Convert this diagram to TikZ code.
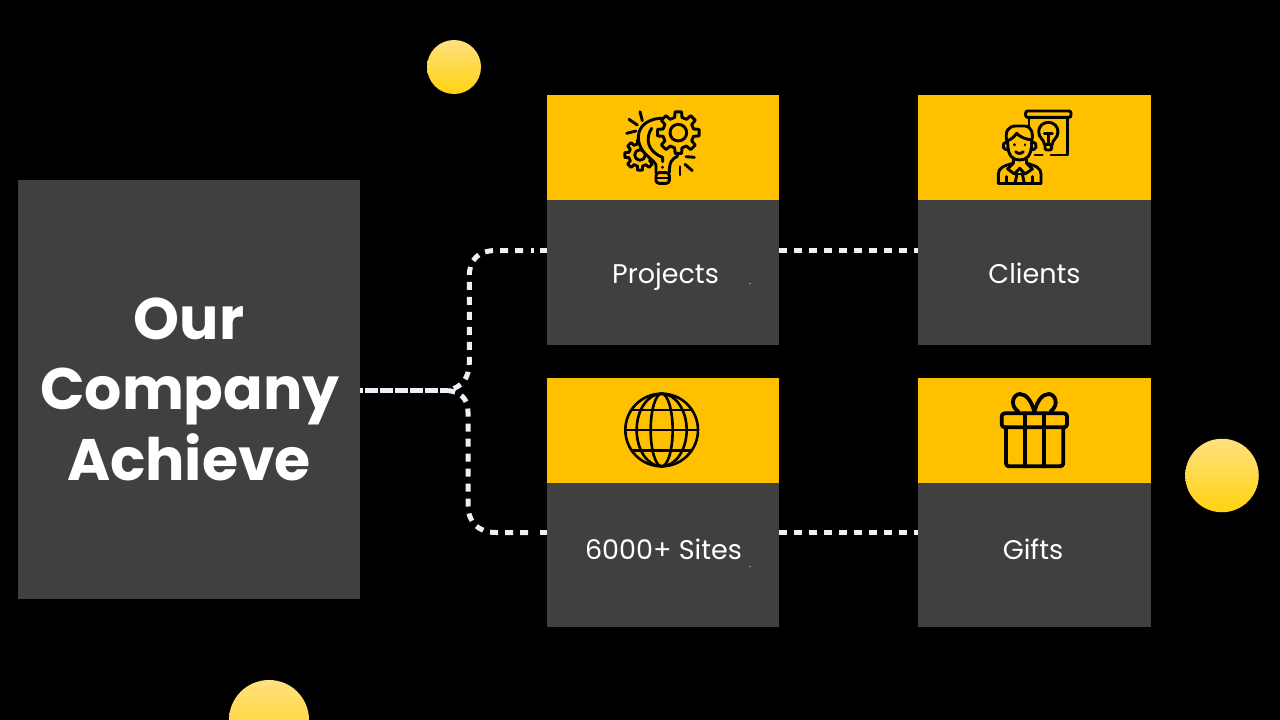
\documentclass[tikz,border=0pt]{standalone}
\usepackage{fontspec}
\setmainfont{Poppins}
\usetikzlibrary{calc}
\definecolor{panel}{HTML}{404040}
\definecolor{amber}{HTML}{FFC000}
\definecolor{linec}{HTML}{EEF0F8}
\definecolor{circtop}{HTML}{FFE07F}
\definecolor{circbot}{HTML}{FFD30F}
\definecolor{speck}{HTML}{8C8C8C}
\tikzset{
  panelbox/.style={fill=panel,draw=none,inner sep=0pt,outer sep=0pt,anchor=north west},
  headbox/.style={fill=amber,draw=none,inner sep=0pt,outer sep=0pt,anchor=north west,minimum width=232pt,minimum height=105pt},
  bodybox/.style={panelbox,minimum width=232pt},
  cardlabel/.style={text=white,font=\fontsize{27}{30}\selectfont,anchor=base,inner sep=0pt},
  titlelabel/.style={text=white,font=\fontsize{58.5}{60}\selectfont\bfseries,anchor=base,inner sep=0pt},
  dashline/.style={draw=linec,line width=5pt,dash pattern=on 13pt off 2pt,dash phase=10pt},
  dotline/.style={draw=linec,line width=5pt,dash pattern=on 8pt off 7pt},
  solidbit/.style={draw=linec,line width=5pt},
  ball/.style={circle,inner sep=0pt,outer sep=0pt,top color=circtop,bottom color=circbot,draw=none},
  ico/.style={draw=black,line width=2.9pt,line cap=round,line join=round},
}
\newcommand{\gearpath}[5]{% cx cy root tip teeth
  \pgfmathsetmacro{\stp}{360/#5}
  \pgfmathsetmacro{\hw}{\stp*0.30}
  \pgfmathsetmacro{\hr}{\stp*0.20}
  \path[ico,fill=amber,shift={(#1,#2)}] (-\hw:#3)
    \foreach \k in {1,...,#5}{
      -- ({\k*\stp-\stp-\hw}:#3) -- ({\k*\stp-\stp-\hr}:#4) -- ({\k*\stp-\stp+\hr}:#4) -- ({\k*\stp-\stp+\hw}:#3)
    } -- cycle;
}
\begin{document}
\begin{tikzpicture}[x=1pt,y=-1pt]
\useasboundingbox (0,0) rectangle (1280,720);
\fill[black] (0,0) rectangle (1280,720);

% circles
\node[ball,minimum size=54pt] (ballA) at (454,67) {};
\node[ball,minimum size=73.5pt] (ballB) at (1222,475.5) {};
\begin{scope}
\clip (0,0) rectangle (1280,720);
\node[ball,minimum size=80pt] (ballC) at (269,720) {};
\end{scope}

% left panel
\node[panelbox,minimum width=342pt,minimum height=419pt] (main) at (18,180) {};
\node[titlelabel] (t1) at (189,339) {Our};
\node[titlelabel] (t2) at (190,409) {Company};
\node[titlelabel] (t3) at (189,480) {Achieve};

% cards
\node[headbox] (h1) at (547,95) {};
\node[bodybox,minimum height=145pt] (b1) at (547,200) {};
\node[headbox,minimum width=233pt] (h2) at (918,95) {};
\node[bodybox,minimum width=233pt,minimum height=145pt] (b2) at (918,200) {};
\node[headbox] (h3) at (547,378) {};
\node[bodybox,minimum height=144pt] (b3) at (547,483) {};
\node[headbox,minimum width=233pt] (h4) at (918,378) {};
\node[bodybox,minimum width=233pt,minimum height=144pt] (b4) at (918,483) {};

\node[cardlabel] (l1) at (665.5,283) {Projects};
\node[cardlabel] (l2) at (1034.5,283) {Clients};
\node[cardlabel] (l3) at (663.5,559) {6000+ Sites};
\node[cardlabel] (l4) at (1033,559) {Gifts};

% tiny specks on the two left cards
\fill[speck] (749,282.6) rectangle (751,283.6);
\fill[speck] (749,565.6) rectangle (751,566.6);

% connectors
\coordinate (p1) at ($(b1.north west)+(0,50.5)$);
\coordinate (p2) at ($(b3.north west)+(0,49.5)$);
\coordinate (q1) at ($(b1.north east)+(0,50.5)$);
\coordinate (q2) at ($(b2.north west)+(0,50.5)$);
\coordinate (q3) at ($(b3.north east)+(0,49.5)$);
\coordinate (q4) at ($(b4.north west)+(0,49.5)$);
\coordinate (m0) at ($(main.east)+(0,1)$);
\coordinate (fork) at ($(main.east)+(88,1)$);
\draw[dashline] (m0) -- (fork);
% top branch, drawn from the card back to the fork
\draw[dotline] ($(p1)+(-24,0)$) -- (496,250.5) .. controls (478,250.5) and (469.3,260) .. (469.3,276) -- (469.3,362) .. controls (469.3,378) and (462,387) .. (fork);
\draw[solidbit] ($(p1)+(-16,0)$) -- ($(p1)+(-13,0)$);
\draw[solidbit] ($(p1)+(-7,0)$) -- (p1);
% bottom branch
\draw[dotline] ($(p2)+(-19,0)$) -- (496,532.5) .. controls (478,532.5) and (468,522) .. (468,505) -- (468,412) .. controls (468,398) and (460,392) .. (fork);
\draw[solidbit] ($(p2)+(-7,0)$) -- (p2);
\draw[dotline] (q1) -- (q2);
\draw[dotline] (q3) -- (q4);

% bulb and gears icon
\begin{scope}[shift={(610,100)},x=0.3333pt,y=-0.3333pt]
\gearpath{90}{165}{34}{46}{8}
\draw[ico,shift={(90,165)}] (0,0) circle[radius=16];
\fill[amber] (138,195) .. controls (130,175) and (85,160) .. (85,112) .. controls (85,75) and (120,52) .. (165,55) -- (205,130) -- (203,168) .. controls (185,178) and (178,185) .. (178,195) -- cycle;
\draw[ico] (138,218) -- (138,195) .. controls (130,175) and (85,160) .. (85,112) .. controls (85,75) and (120,52) .. (165,55);
\draw[ico] (203,168) .. controls (185,178) and (178,185) .. (178,218);
\draw[ico] (125,85) .. controls (105,115) and (112,155) .. (158,172) -- (158,185);
\draw[ico] (158,201) -- (158,202);
\draw[ico,rounded corners=3pt] (138,218) -- (138,250) -- (178,250) -- (178,218) -- cycle;
\draw[ico] (138,234) -- (178,234);
\draw[ico] (57,58) -- (82,75);
\draw[ico] (90,35) -- (97,62);
\draw[ico] (50,100) -- (78,93);
\draw[ico] (228,170) -- (253,172);
\draw[ico] (225,193) -- (247,212);
\draw[ico] (210,200) -- (210,225);
\gearpath{205}{98}{47}{63}{8}
\draw[ico,shift={(205,98)}] (0,0) circle[radius=25];
\end{scope}

% person and board icon
\begin{scope}[shift={(985,100)},x=0.3333pt,y=-0.3333pt]
\draw[ico,rounded corners=2pt] (122,33) rectangle (258,52);
\draw[ico] (132,52) -- (132,78);
\draw[ico] (248,52) -- (248,165) -- (198,165);
\draw[ico] (150,165) -- (172,165);
\draw[ico] (178,133) .. controls (178,118) and (161,115) .. (161,95) .. controls (161,78) and (175,67) .. (190,67) .. controls (205,67) and (219,78) .. (219,95) .. controls (219,115) and (202,118) .. (202,133) -- cycle;
\draw[ico] (178,100) -- (202,100);
\draw[ico] (190,100) -- (190,133);
\draw[ico,rounded corners=2pt] (180,133) -- (180,150) -- (200,150) -- (200,133);
% head
\draw[ico] (68,128) .. controls (68,170) and (85,180) .. (104,180) .. controls (123,180) and (140,170) .. (140,128);
\draw[ico] (68,128) .. controls (56,125) and (52,135) .. (55,142) .. controls (57,148) and (63,150) .. (70,148);
\draw[ico] (140,128) .. controls (152,125) and (156,135) .. (153,142) .. controls (151,148) and (145,150) .. (138,148);
\draw[ico] (66,125) .. controls (58,95) and (70,78) .. (92,78) -- (120,78) .. controls (142,80) and (146,105) .. (140,125);
\draw[ico] (68,122) .. controls (80,118) and (90,108) .. (95,100) .. controls (105,112) and (125,118) .. (140,120);
\draw[ico] (88,134) -- (88,135);
\draw[ico] (120,134) -- (120,135);
\draw[ico] (92,155) .. controls (98,162) and (109,162) .. (115,155);
% body
\draw[ico] (40,250) -- (40,222) .. controls (40,205) and (55,197) .. (85,190) -- (85,178);
\draw[ico] (168,250) -- (168,222) .. controls (168,205) and (153,197) .. (125,190) -- (125,178);
\draw[ico] (40,250) -- (168,250);
\draw[ico] (85,190) -- (68,207) -- (88,222) -- (104,205) -- (120,222) -- (142,207) -- (125,190);
\draw[ico] (96,222) -- (90,250);
\draw[ico] (112,222) -- (118,250);
\draw[ico] (96,222) -- (112,222);
\draw[ico] (65,230) -- (65,250);
\draw[ico] (143,230) -- (143,250);
\end{scope}

% globe icon
\begin{scope}[shift={(610,385)},x=0.3333pt,y=-0.3333pt,ico/.append style={line width=2.6pt}]
\draw[ico] (155,135) circle[radius=109];
\draw[ico] (155,135) circle[x radius=33,y radius=109];
\draw[ico] (155,135) circle[x radius=75,y radius=109];
\draw[ico] (46,135) -- (264,135);
\draw[ico] (65,75) -- (245,75);
\draw[ico] (65,197) -- (245,197);
\end{scope}

% gift icon
\begin{scope}[shift={(985,385)},x=0.3333pt,y=-0.3333pt,ico/.append style={line width=3.8pt}]
\draw[ico,rounded corners=3pt] (50,85) rectangle (246,127);
\draw[ico,rounded corners=3pt] (63,127) -- (63,244) -- (235,244) -- (235,127);
\draw[ico] (120,85) -- (120,244);
\draw[ico] (178,85) -- (178,244);
\draw[ico] (148,80) .. controls (140,50) and (125,27) .. (105,27) .. controls (85,27) and (72,60) .. (100,80);
\draw[ico] (148,80) .. controls (156,50) and (171,27) .. (191,27) .. controls (211,27) and (224,60) .. (196,80);
\end{scope}
\end{tikzpicture}
\end{document}
